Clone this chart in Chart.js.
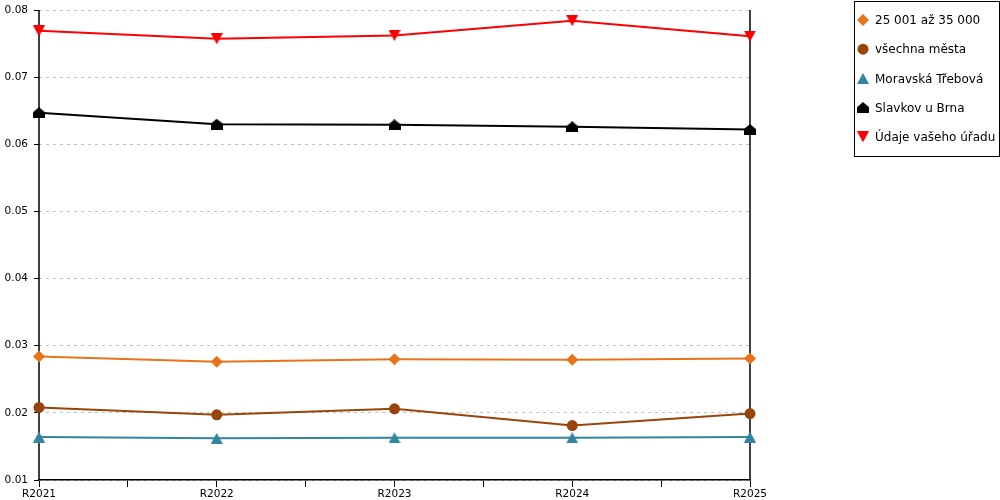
<!DOCTYPE html>
<html><head><meta charset="utf-8">
<script src="https://cdn.jsdelivr.net/npm/chart.js@4/dist/chart.umd.min.js"></script>
<style>html,body{margin:0;padding:0;background:#fff}#w{width:1000px;height:500px}</style>
</head><body><div id="w"><canvas id="c"></canvas></div>
<script>
const categories = ['R2021','R2022','R2023','R2024','R2025'];
const yTicks = [0.01,0.02,0.03,0.04,0.05,0.06,0.07,0.08];
const seriesNames = ['25 001 až 35 000','všechna města','Moravská Třebová','Slavkov u Brna','Údaje vašeho úřadu'];
const s25001 = [0.0284,0.0276,0.0280,0.0279,0.0281];
const sVsechna = [0.0208,0.0197,0.0206,0.0181,0.0199];
const sMoravska = [0.0164,0.0162,0.0163,0.0163,0.0164];
const sSlavkov = [0.0647,0.0630,0.0629,0.0626,0.0622];
const sUdaje = [0.0769,0.0757,0.0762,0.0784,0.0761];

const FONT = 'DejaVu Sans';
function mk(w,h,draw){const c=document.createElement('canvas');c.width=w;c.height=h;const g=c.getContext('2d');draw(g);return c;}
const triUp = color => mk(12,11,g=>{g.fillStyle=color;g.beginPath();g.moveTo(6,0);g.lineTo(12,11);g.lineTo(0,11);g.closePath();g.fill();});
const triDown = color => mk(12,11,g=>{g.fillStyle=color;g.beginPath();g.moveTo(0,0);g.lineTo(12,0);g.lineTo(6,11);g.closePath();g.fill();});
const house = color => mk(12,11,g=>{g.fillStyle=color;g.beginPath();g.moveTo(6,0);g.lineTo(12,5);g.lineTo(12,11);g.lineTo(0,11);g.lineTo(0,5);g.closePath();g.fill();});

const colors = ['#E8731A','#97450B','#31859C','#000000','#FF0000'];
const styles = ['rectRot','circle',triUp(colors[2]),house(colors[3]),triDown(colors[4])];
const radii = [6,5.5,6,6,6];
const values = [s25001,sVsechna,sMoravska,sSlavkov,sUdaje];

const datasets = values.map((vals,k)=>({
  label: seriesNames[k],
  data: vals.map((v,i)=>({x:i,y:v})),
  borderColor: colors[k], backgroundColor: colors[k],
  borderWidth: 2, pointStyle: styles[k], pointRadius: radii[k], pointHoverRadius: radii[k],
  pointBorderWidth: 0, tension: 0, clip: false
}));

const frame = {
  id:'frame',
  beforeDatasetsDraw(chart){
    const g=chart.ctx, a=chart.chartArea;
    g.save();
    g.strokeStyle='#000'; g.lineWidth=1.5;
    g.beginPath(); g.moveTo(a.right,a.top); g.lineTo(a.right,a.bottom); g.stroke();
    g.beginPath(); g.moveTo(a.left,a.top); g.lineTo(a.left,a.bottom); g.stroke();
    g.restore();
  },
  afterDraw(chart){
    const g=chart.ctx;
    g.save();
    g.strokeStyle='#000'; g.lineWidth=1; g.setLineDash([]);
    g.strokeRect(854.5,1.5,145,155);
    g.font='12px "'+FONT+'"'; g.textBaseline='middle'; g.fillStyle='#000';
    for(let k=0;k<seriesNames.length;k++){
      const y=20+k*29.2;
      g.fillStyle=colors[k];
      if(typeof styles[k]==='string'){ g.beginPath(); if(styles[k]==='circle'){g.arc(863,y,5.5,0,Math.PI*2);} else {g.moveTo(863,y-6);g.lineTo(869,y);g.lineTo(863,y+6);g.lineTo(857,y);g.closePath();} g.fill(); }
      else { g.drawImage(styles[k],857,y-5.5); }
      g.fillStyle='#000';
      g.fillText(seriesNames[k],875,y+1);
    }
    g.restore();
  }
};

new Chart(document.getElementById('c'),{
  type:'line',
  data:{datasets},
  options:{
    responsive:true, maintainAspectRatio:false, animation:false,
    layout:{padding:{top:10,right:250,left:0,bottom:0}},
    plugins:{legend:{display:false},tooltip:{enabled:false}},
    scales:{
      x:{type:'linear',min:0,max:categories.length-1,
        afterBuildTicks(s){s.ticks=[];for(let v=0;v<=categories.length-1;v+=0.5)s.ticks.push({value:v});},
        afterFit(s){s.height=20;s.paddingLeft=0;s.paddingRight=0;},
        ticks:{autoSkip:false,maxRotation:0,padding:1,color:'#000',font:{family:FONT,size:10.5},
          callback:v=>Number.isInteger(v)?categories[v]:''},
        grid:{drawOnChartArea:false,drawTicks:true,tickLength:7,tickColor:'#000',tickWidth:1},
        border:{display:true,color:'#000',width:1.5}
      },
      y:{type:'linear',min:yTicks[0],max:yTicks[yTicks.length-1],
        afterBuildTicks(s){s.ticks=yTicks.map(v=>({value:v}));},
        afterFit(s){s.width=39;s.paddingTop=0;s.paddingBottom=0;},
        ticks:{padding:6,color:'#000',font:{family:FONT,size:10.5},callback:v=>String(+v.toFixed(2))},
        grid:{color:'#C0C0C0',tickLength:5,tickColor:'#000',tickBorderDash:[],tickWidth:1,lineWidth:1},
        border:{display:false,dash:[3,4]}
      }
    }
  },
  plugins:[frame]
});
</script></body></html>
